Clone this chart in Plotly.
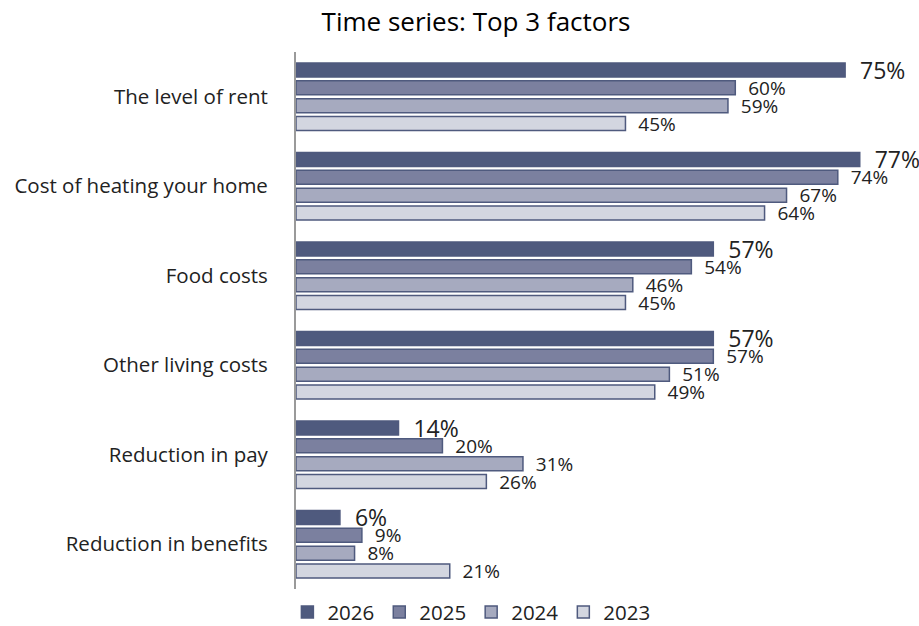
import plotly.graph_objects as go

categories = ["The level of rent", "Cost of heating your home", "Food costs",
              "Other living costs", "Reduction in pay", "Reduction in benefits"]
years = ["2026", "2025", "2024", "2023"]
values = {
    "2026": [75, 77, 57, 57, 14, 6],
    "2025": [60, 74, 54, 57, 20, 9],
    "2024": [59, 67, 46, 51, 31, 8],
    "2023": [45, 64, 45, 49, 26, 21],
}
colors = {"2026": "#4f5a7e", "2025": "#7b809f", "2024": "#a6aabf", "2023": "#d3d6e0"}
label_sizes = {"2026": 23, "2025": 19, "2024": 19, "2023": 19}

FONT = "Open Sans, Noto Sans, sans-serif"
PAD = "\u00a0\u00a0"  # small gap between bar end and its value label

fig = go.Figure()
for y in years:
    fig.add_trace(go.Bar(
        name=y,
        y=categories,
        x=values[y],
        orientation="h",
        marker=dict(color=colors[y], line=dict(color="#4f5a7e", width=1.5)),
        text=[f"{PAD}{v}%" for v in values[y]],
        textposition="outside",
        textfont=dict(size=label_sizes[y], color="#222222", family=FONT),
        cliponaxis=False,
        constraintext="none",
    ))

fig.update_layout(
    width=919, height=626,
    barmode="group",
    bargap=0.2,
    bargroupgap=0.22,
    plot_bgcolor="white",
    paper_bgcolor="white",
    font=dict(family=FONT, color="#222222"),
    title=dict(text="Time series: Top 3 factors", x=0.518, xanchor="center",
               y=0.965, yanchor="middle",
               font=dict(size=26, color="#000000", family=FONT)),
    margin=dict(l=296, r=8, t=52, b=37, autoexpand=False),
    xaxis=dict(range=[0, 84], visible=False, fixedrange=True),
    yaxis=dict(autorange="reversed", showline=True, linecolor="#9a9a9a", linewidth=2,
               ticks="", ticklabelstandoff=22,
               tickfont=dict(size=20.5, color="#222222", family=FONT)),
    legend=dict(orientation="h", x=-0.014, xanchor="left",
                yref="container", y=0.022, yanchor="middle",
                font=dict(size=20.5, color="#222222", family=FONT),
                itemwidth=30, traceorder="normal", tracegroupgap=0),
    showlegend=True,
)

fig.write_html("out.html")
